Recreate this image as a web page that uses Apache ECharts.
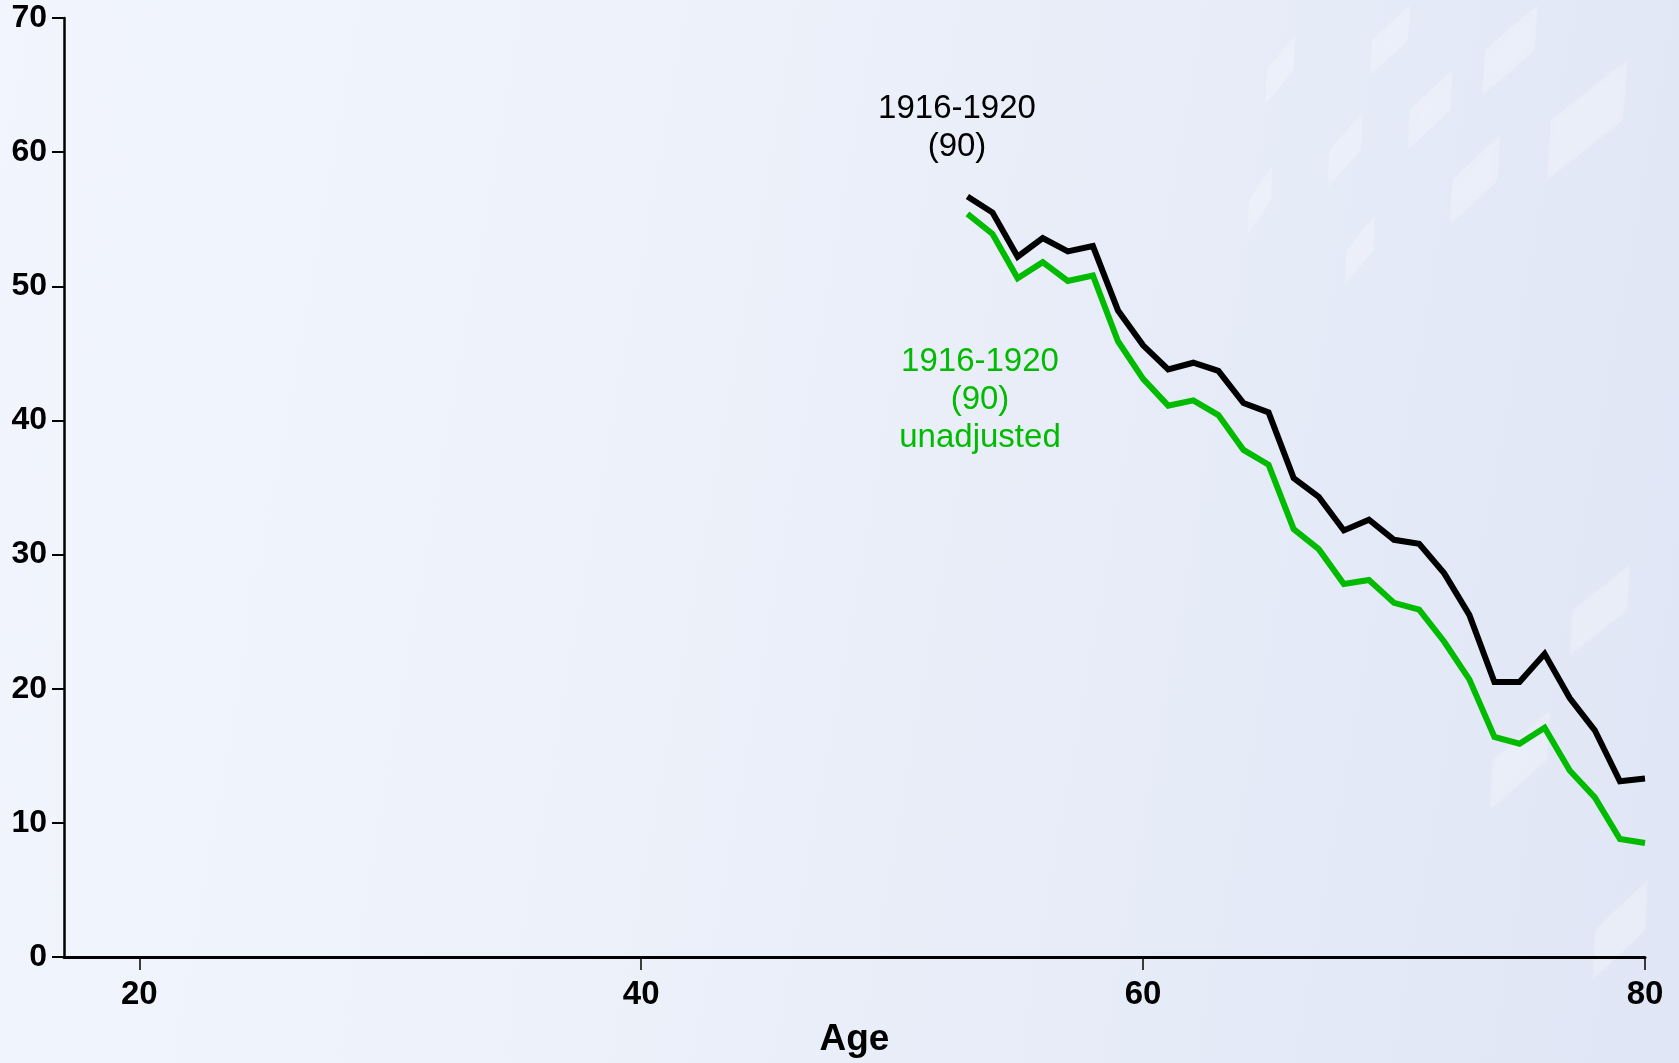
<!DOCTYPE html>
<html>
<head>
<meta charset="utf-8">
<script src="https://cdn.jsdelivr.net/npm/echarts@6/dist/echarts.min.js"></script>
<style>
html,body{margin:0;padding:0;width:1679px;height:1063px;overflow:hidden;}
body{background:linear-gradient(100deg,#f2f5fd 0%,#edf1fa 40%,#e6ebf8 70%,#e0e6f5 100%);}
#chart{width:1679px;height:1063px;}
</style>
</head>
<body>
<div id="chart"></div>
<script>
const ages = [53,54,55,56,57,58,59,60,61,62,63,64,65,66,67,68,69,70,71,72,73,74,75,76,77,78,79,80];
const adjusted = [56.7,55.5,52.2,53.6,52.6,53.0,48.2,45.6,43.8,44.3,43.7,41.3,40.6,35.7,34.3,31.8,32.6,31.1,30.8,28.6,25.5,20.5,20.5,22.6,19.3,16.9,13.1,13.3];
const unadjusted = [55.4,53.9,50.6,51.8,50.4,50.8,45.9,43.1,41.1,41.5,40.4,37.8,36.7,31.9,30.4,27.8,28.1,26.4,25.9,23.5,20.7,16.4,15.9,17.1,13.9,11.9,8.8,8.5];
const xTicks = [20,40,60,80];
const labelAdjusted = '1916-1920\n(90)';
const labelUnadjusted = '1916-1920\n(90)\nunadjusted';

const chart = echarts.init(document.getElementById('chart'), null, {renderer:'canvas'});
const fontFam = '"Liberation Sans", Arial, Helvetica, sans-serif';

// faint, soft decorative diamonds in the background
function rhombus(cx, cy, w, h) {
  return {type:'polygon', silent:true, z:-10,
    shape:{points:[[cx + w*0.5, cy - h/2],[cx + w*0.45, cy],[cx - w*0.5, cy + h/2],[cx - w*0.45, cy]]},
    style:{fill:'rgba(255,255,255,0.2)', shadowBlur:14, shadowColor:'rgba(255,255,255,0.5)'}};
}
const deco = [
  rhombus(1587,120,80,120), rhombus(1510,50,55,90), rhombus(1430,110,45,80),
  rhombus(1390,40,40,70), rhombus(1345,150,35,75), rhombus(1280,70,30,70),
  rhombus(1475,180,50,90), rhombus(1360,250,30,70), rhombus(1260,200,25,70),
  rhombus(1600,610,60,90), rhombus(1520,760,60,100), rhombus(1620,930,55,100)
];

chart.setOption({
  backgroundColor: 'transparent',
  animation: false,
  grid: {left: 64, right: 34, top: 18, bottom: 104, containLabel: false},
  xAxis: {
    type: 'value', min: 17, max: 80,
    name: 'Age', nameLocation: 'middle', nameGap: 64,
    nameTextStyle: {fontFamily: fontFam, fontWeight: 'bold', fontSize: 37, color: '#000'},
    axisLine: {show: true, lineStyle: {color: '#000', width: 3}},
    axisTick: {show: true, length: 13, lineStyle: {color: '#000', width: 1.5}, customValues: xTicks},
    axisLabel: {fontFamily: fontFam, fontWeight: 'bold', fontSize: 33, color: '#000', margin: 21, customValues: xTicks},
    splitLine: {show: false}
  },
  yAxis: {
    type: 'value', min: 0, max: 70, interval: 10,
    axisLine: {show: true, lineStyle: {color: '#000', width: 2.5}},
    axisTick: {show: true, length: 12, lineStyle: {color: '#000', width: 2}},
    axisLabel: {fontFamily: fontFam, fontWeight: 'bold', fontSize: 32, color: '#000', margin: 17},
    splitLine: {show: false}
  },
  series: [
    {
      type: 'line', name: 'adjusted', showSymbol: false, symbol: 'none',
      data: ages.map((a, i) => [a, adjusted[i]]),
      lineStyle: {color: '#000', width: 6, join: 'miter'}, z: 3
    },
    {
      type: 'line', name: 'unadjusted', showSymbol: false, symbol: 'none',
      data: ages.map((a, i) => [a, unadjusted[i]]),
      lineStyle: {color: '#00bb00', width: 6, join: 'miter'}, z: 2
    }
  ],
  graphic: deco.concat([
    {type: 'text', left: 957 - 100, top: 90, style: {text: labelAdjusted, width: 200, x: 100, textAlign: 'center', fontFamily: fontFam, fontSize: 33, lineHeight: 38, fill: '#000'}},
    {type: 'text', left: 980 - 100, top: 343, style: {text: labelUnadjusted, width: 200, x: 100, textAlign: 'center', fontFamily: fontFam, fontSize: 33, lineHeight: 38, fill: '#00bb00'}}
  ])
});
</script>
</body>
</html>
